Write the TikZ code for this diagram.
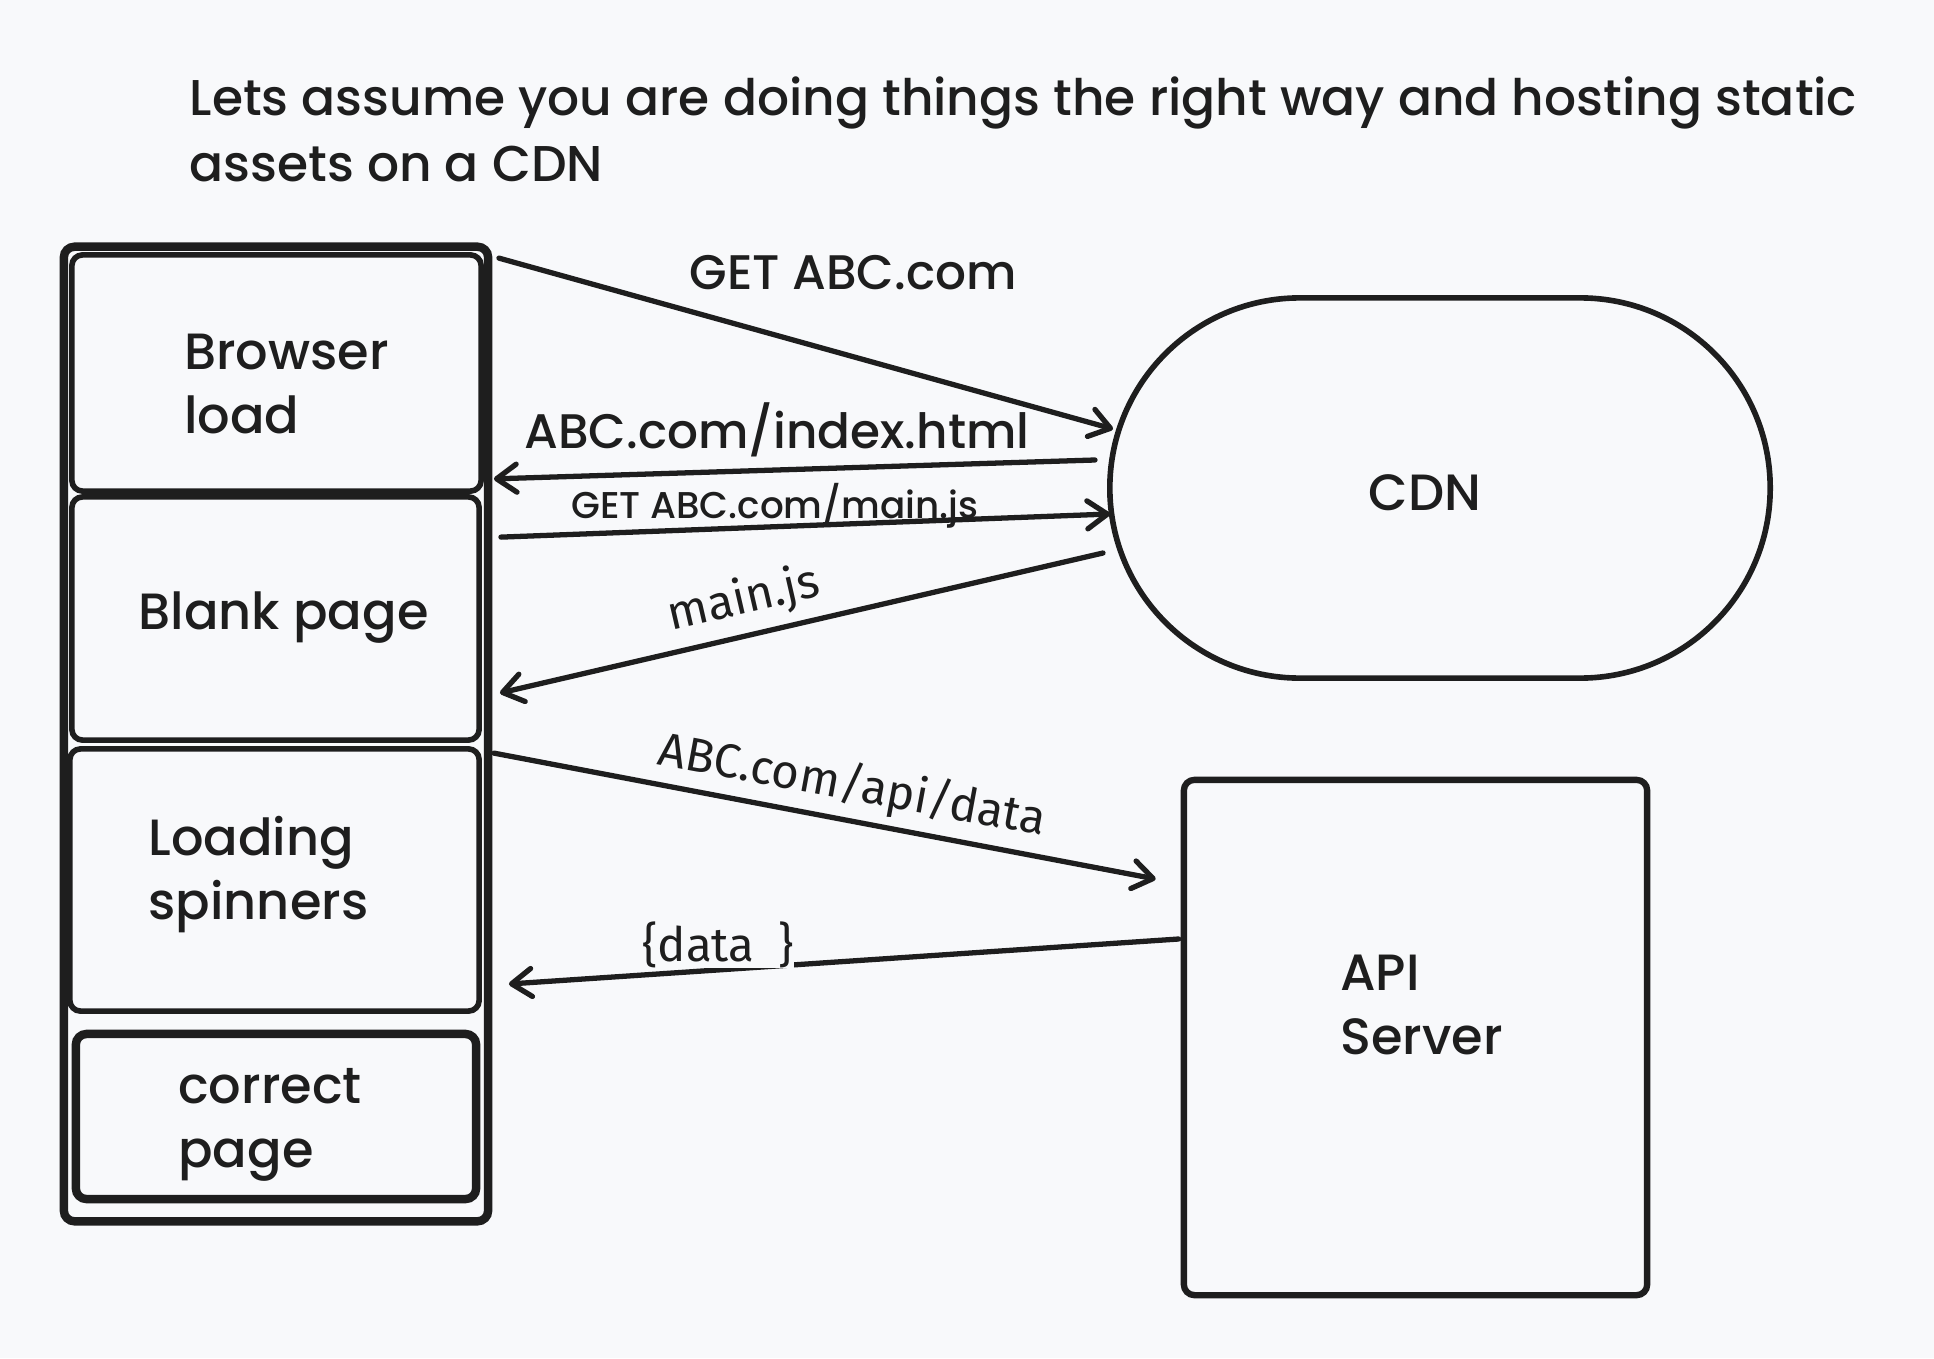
\documentclass[tikz,border=0pt]{standalone}
\usepackage{fontspec}
\setmainfont{Poppins}[BoldFont={Poppins Medium}]
\newfontfamily\plexfont{Fira Sans}
\usetikzlibrary{arrows.meta,calc}
\definecolor{ink}{HTML}{1E1E1E}
\definecolor{paper}{HTML}{F8F9FB}

\begin{document}
\begin{tikzpicture}[x=0.01cm, y=-0.01cm,
  box/.style={draw=ink, line width=1.6pt, rounded corners=3pt, inner sep=0pt},
  hand/.style={text=ink, align=left, inner sep=0pt, font=\bfseries\fontsize{14.5}{18.2}\selectfont},
  plain/.style={text=ink, inner sep=0pt, font=\plexfont\fontsize{13.5}{16}\selectfont},
  flow/.style={draw=ink, line width=1.5pt, line cap=round,
    -{Straight Barb[length=0.2cm, width=0.28cm, round]}}]
  % 背景
  \path[use as bounding box, fill=paper] (0,0) rectangle (1934,1358);
  % 标题
  \node[hand, anchor=north west, font=\bfseries\fontsize{14.3}{18.8}\selectfont] (title) at (189,76)
    {Lets assume you are doing things the right way and hosting static\\assets on a CDN};
  % 浏览器一侧的页面状态
  \node[box, line width=2.4pt, minimum width=4.24cm, minimum height=9.74cm] (frame) at (276,734) {};
  \node[box, minimum width=4.09cm, minimum height=2.36cm] (load) at (276.5,373) {};
  \node[box, minimum width=4.07cm, minimum height=2.43cm] (blank) at (275.5,618.5) {};
  \node[box, minimum width=4.09cm, minimum height=2.62cm] (spin) at (274.5,880) {};
  \node[box, line width=2.4pt, minimum width=4.00cm, minimum height=1.65cm] (done) at (276,1116.5) {};
  \node[hand] (loadtxt) at ($(load)+(10,11)$) {Browser\\load};
  \node[hand] (blanktxt) at ($(blank)+(8,-1)$) {Blank page};
  \node[hand] (spintxt) at ($(spin)+(-16,-5)$) {Loading\\spinners};
  \node[hand] (donetxt) at ($(done)+(-6,8)$) {correct\\page};
  % CDN 与 API 服务器
  \node[box, rounded corners=1.9cm, minimum width=6.60cm, minimum height=3.80cm] (cdn) at (1440,488) {};
  \node[hand] (cdntxt) at ($(cdn)+(-15,5)$) {CDN};
  \node[box, line width=1.8pt, minimum width=4.63cm, minimum height=5.15cm] (api) at (1415.5,1037.5) {};
  \node[hand] (apitxt) at ($(api)+(6,-33)$) {API\\Server};
  % 请求与响应
  \draw[flow] ($(load.north east)+(15,6)$) -- ($(cdn.west)+(6,-59)$);
  \node[hand, font=\bfseries\fontsize{13.8}{16}\selectfont] (getlbl) at (853,273) {GET ABC.com};
  \draw[flow] ($(cdn.west)+(-12,-28)$) -- ($(load.south east)+(10,-15)$);
  \node[hand, font=\bfseries\fontsize{13.8}{16}\selectfont] (htmllbl) at (777,430) {ABC.com/index.html};
  \draw[flow] ($(blank.north east)+(19,43)$) -- ($(cdn.west)+(3,26)$);
  \node[hand, font=\bfseries\fontsize{10.6}{13}\selectfont] (jsget) at (775,506) {GET ABC.com/main.js};
  \draw[flow] ($(cdn.west)+(-4,65)$) -- ($(blank.east)+(18,74.5)$);
  \node[plain, rotate=13] (jslbl) at (744,600) {main.js};
  \draw[flow] ($(spin.north east)+(12,7)$) -- ($(api.west)+(-25,-158.5)$);
  \node[plain, rotate=-10.5] (apilbl) at (852,786) {ABC.com/api/data};
  \draw[flow] ($(api.west)+(-2,-98.5)$) -- ($(spin.east)+(27,104)$);
  \node[plain, fill=paper] (datalbl) at (718,945) {\{data\hspace{0.5em}\}};
\end{tikzpicture}
\end{document}
